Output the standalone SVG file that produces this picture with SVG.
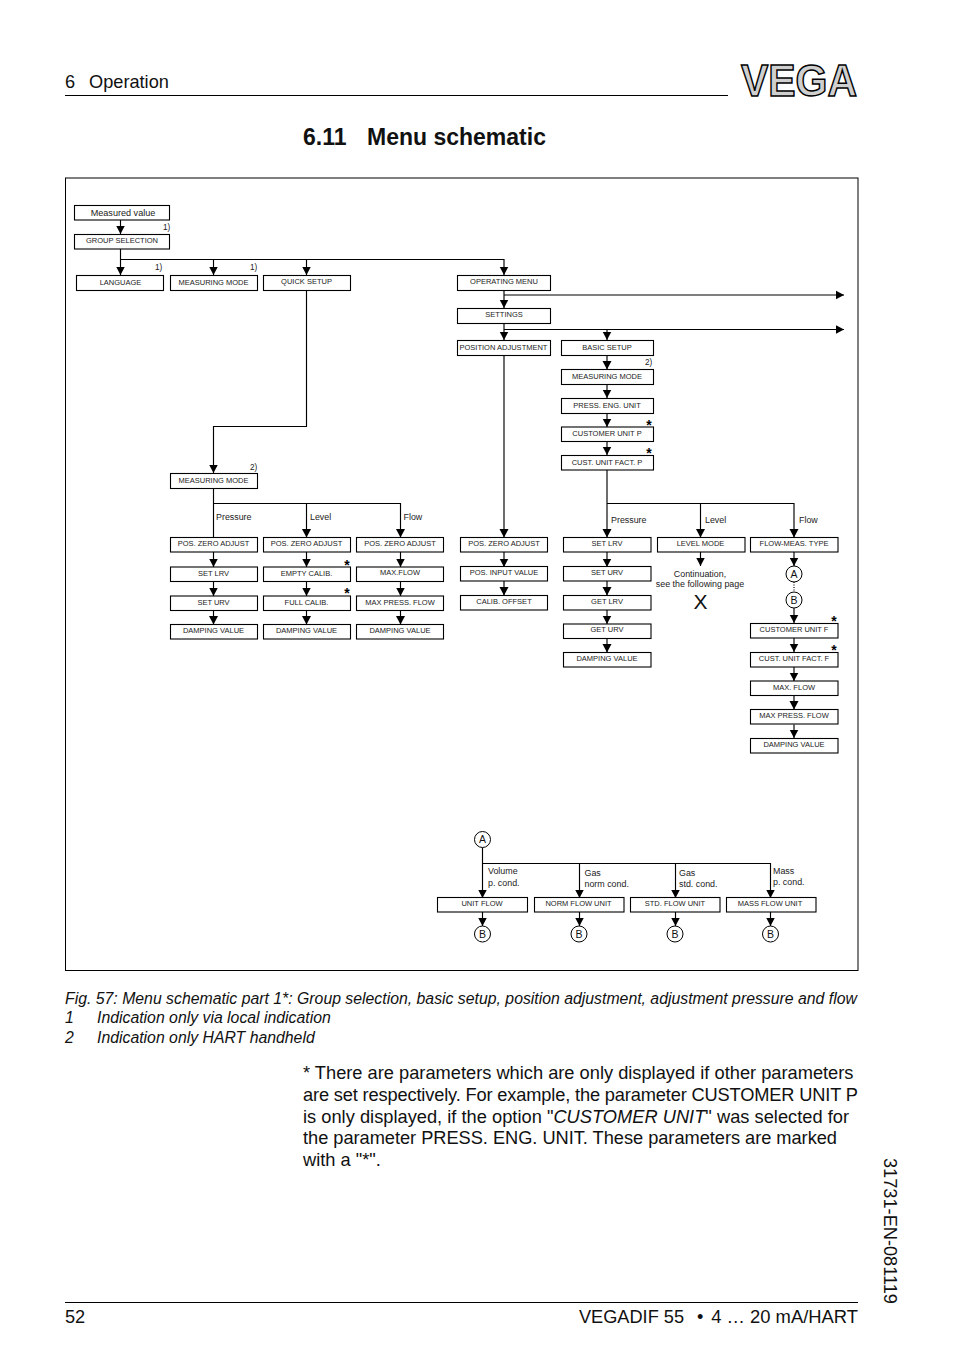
<svg xmlns="http://www.w3.org/2000/svg" width="954" height="1354" viewBox="0 0 954 1354">
<style>
text{font-family:"Liberation Sans",Arial,sans-serif;fill:#111}
.b rect{fill:#fff;stroke:#000;stroke-width:1.1}
.b text{font-size:7.5px;text-anchor:middle;fill:#222}
.l{font-size:8.9px;fill:#222}
.n{font-size:8.2px;fill:#222}
.c line,.c path{fill:none;stroke:#000;stroke-width:1.15}
.k circle{fill:#fff;stroke:#000;stroke-width:1}
.k text{font-size:10.5px;text-anchor:middle;fill:#111}
.h{font-size:18.2px}
.cap{font-size:15.82px;font-style:italic}
.body{font-size:18.25px}
.s{font-size:14px;font-weight:bold;text-anchor:middle;fill:#000}
</style>
<defs>
<marker id="a" markerUnits="userSpaceOnUse" markerWidth="9" markerHeight="10" refX="8.500" refY="5" orient="auto"><path d="M0,0.5 L8.500,5 L0,9.500 z" fill="#000"/></marker>
</defs>
<rect width="954" height="1354" fill="#fff"/>
<g id="header">
<text class="h" x="65" y="88">6<tspan x="89">Operation</tspan></text>
<line x1="65" y1="95.5" x2="728" y2="95.5" stroke="#000"/>
<text x="741" y="96" font-size="44" font-weight="bold" textLength="116" lengthAdjust="spacingAndGlyphs" style="fill:#cfcfcf;stroke:#000;stroke-width:1.5">VEGA</text>
</g>
<text id="title" x="303" y="145" font-size="23" font-weight="bold">6.11<tspan x="367">Menu schematic</tspan></text>
<rect id="frame" x="65.5" y="178" width="792.5" height="792.5" fill="#fff" stroke="#000"/>
<g id="connectors" class="c">
<line x1="120.5" y1="220" x2="120.5" y2="234" marker-end="url(#a)"/>
<path d="M120.5 249V275" marker-end="url(#a)"/>
<path d="M120.5 259.5H504V275" marker-end="url(#a)"/>
<path d="M213.5 259.5V275" marker-end="url(#a)"/>
<path d="M306.5 259.5V275" marker-end="url(#a)"/>
<path d="M306.5 290.5V426.5H213.5V473" marker-end="url(#a)"/>
<path d="M213.5 488V537.5"/>
<path d="M213.5 503.5H400.5V537.5" marker-end="url(#a)"/>
<path d="M306.5 503.5V537.5" marker-end="url(#a)"/>
<path d="M213.5 552V567" marker-end="url(#a)"/>
<path d="M213.5 581V596" marker-end="url(#a)"/>
<path d="M213.5 610V624.5" marker-end="url(#a)"/>
<path d="M306.5 552V567" marker-end="url(#a)"/>
<path d="M306.5 581V596" marker-end="url(#a)"/>
<path d="M306.5 610V624.5" marker-end="url(#a)"/>
<path d="M400.5 552V567" marker-end="url(#a)"/>
<path d="M400.5 581V596" marker-end="url(#a)"/>
<path d="M400.5 610V624.5" marker-end="url(#a)"/>
<path d="M504 290.5V308" marker-end="url(#a)"/>
<path d="M504 295H844" marker-end="url(#a)"/>
<path d="M504 323V340" marker-end="url(#a)"/>
<path d="M504 329.5H844" marker-end="url(#a)"/>
<path d="M607 329.5V340" marker-end="url(#a)"/>
<path d="M504 355.5V537.5" marker-end="url(#a)"/>
<path d="M504 552V567" marker-end="url(#a)"/>
<path d="M504 581V595.5" marker-end="url(#a)"/>
<path d="M607 355.5V369.5" marker-end="url(#a)"/>
<path d="M607 384.5V398" marker-end="url(#a)"/>
<path d="M607 413.5V427" marker-end="url(#a)"/>
<path d="M607 441.5V455" marker-end="url(#a)"/>
<path d="M607 470V537.5" marker-end="url(#a)"/>
<path d="M607 503.5H794V537.5" marker-end="url(#a)"/>
<path d="M700.5 503.5V537.5" marker-end="url(#a)"/>
<path d="M607 552V567" marker-end="url(#a)"/>
<path d="M607 581V595.5" marker-end="url(#a)"/>
<path d="M607 610V624" marker-end="url(#a)"/>
<path d="M607 638.5V652.5" marker-end="url(#a)"/>
<path d="M700.5 552V566" marker-end="url(#a)"/>
<path d="M794 552V566" marker-end="url(#a)"/>
<path d="M794 582V592" stroke-dasharray="1 1.5"/>
<path d="M794 608V623" marker-end="url(#a)"/>
<path d="M794 638V652" marker-end="url(#a)"/>
<path d="M794 667V681" marker-end="url(#a)"/>
<path d="M794 695.5V709.5" marker-end="url(#a)"/>
<path d="M794 724.5V738" marker-end="url(#a)"/>
<path d="M482.5 847.5V898" marker-end="url(#a)"/>
<path d="M482.5 863.5H770.5V898" marker-end="url(#a)"/>
<path d="M579.5 863.5V898" marker-end="url(#a)"/>
<path d="M675.5 863.5V898" marker-end="url(#a)"/>
<path d="M482.5 912V926" marker-end="url(#a)"/>
<path d="M579.5 912V926" marker-end="url(#a)"/>
<path d="M675.5 912V926" marker-end="url(#a)"/>
<path d="M770.5 912V926" marker-end="url(#a)"/>
</g>
<g id="n-measured-value" class="b"><rect x="74.5" y="205.5" width="95" height="14.5"/><text x="123" y="216" style="font-size:9.1px">Measured value</text></g>
<g id="n-group-selection" class="b"><rect x="74.5" y="234.5" width="95" height="14.5"/><text x="122" y="243">GROUP SELECTION</text></g>
<g id="n-language" class="b"><rect x="76.5" y="275.5" width="87" height="15"/><text x="120.5" y="285">LANGUAGE</text></g>
<g id="n-measuring-mode-1" class="b"><rect x="170.5" y="275.5" width="87" height="15"/><text x="213.5" y="285">MEASURING MODE</text></g>
<g id="n-quick-setup" class="b"><rect x="263.5" y="275.5" width="87" height="15"/><text x="306.5" y="284">QUICK SETUP</text></g>
<g id="n-measuring-mode-2" class="b"><rect x="170.5" y="473.5" width="87" height="15"/><text x="213.5" y="483">MEASURING MODE</text></g>
<g id="n-operating-menu" class="b"><rect x="457.5" y="275.5" width="93" height="15"/><text x="504" y="284">OPERATING MENU</text></g>
<g id="n-settings" class="b"><rect x="457.5" y="308.5" width="93" height="15"/><text x="504" y="317">SETTINGS</text></g>
<g id="n-position-adjustment" class="b"><rect x="457.5" y="340.5" width="93" height="15"/><text x="503.5" y="350">POSITION ADJUSTMENT</text></g>
<g id="n-basic-setup" class="b"><rect x="561.5" y="340.5" width="92" height="15"/><text x="607" y="350">BASIC SETUP</text></g>
<g id="n-measuring-mode-3" class="b"><rect x="561.5" y="369.5" width="92" height="15"/><text x="607" y="379">MEASURING MODE</text></g>
<g id="n-press-eng-unit" class="b"><rect x="561.5" y="398.5" width="92" height="15"/><text x="607" y="408">PRESS. ENG. UNIT</text></g>
<g id="n-customer-unit-p" class="b"><rect x="561.5" y="427" width="92" height="14.5"/><text x="607" y="436">CUSTOMER UNIT P</text></g>
<g id="n-cust-unit-fact-p" class="b"><rect x="561.5" y="455.5" width="92" height="14.5"/><text x="607" y="465">CUST. UNIT FACT. P</text></g>
<g id="n-p-zero" class="b"><rect x="170.5" y="537.5" width="87" height="14.5"/><text x="213.5" y="546">POS. ZERO ADJUST</text></g>
<g id="n-p-lrv" class="b"><rect x="170.5" y="567" width="87" height="14.5"/><text x="213.5" y="576">SET LRV</text></g>
<g id="n-p-urv" class="b"><rect x="170.5" y="596" width="87" height="14.5"/><text x="213.5" y="605">SET URV</text></g>
<g id="n-p-damping" class="b"><rect x="170.5" y="624.5" width="87" height="14.5"/><text x="213.5" y="633">DAMPING VALUE</text></g>
<g id="n-l-zero" class="b"><rect x="263.5" y="537.5" width="87" height="14.5"/><text x="306.5" y="546">POS. ZERO ADJUST</text></g>
<g id="n-l-empty" class="b"><rect x="263.5" y="567" width="87" height="14.5"/><text x="306.5" y="576">EMPTY CALIB.</text></g>
<g id="n-l-full" class="b"><rect x="263.5" y="596" width="87" height="14.5"/><text x="306.5" y="605">FULL CALIB.</text></g>
<g id="n-l-damping" class="b"><rect x="263.5" y="624.5" width="87" height="14.5"/><text x="306.5" y="633">DAMPING VALUE</text></g>
<g id="n-f-zero" class="b"><rect x="356.5" y="537.5" width="87" height="14.5"/><text x="400" y="546">POS. ZERO ADJUST</text></g>
<g id="n-f-max" class="b"><rect x="356.5" y="567" width="87" height="14.5"/><text x="400" y="575">MAX.FLOW</text></g>
<g id="n-f-press" class="b"><rect x="356.5" y="596" width="87" height="14.5"/><text x="400" y="604.5">MAX PRESS. FLOW</text></g>
<g id="n-f-damping" class="b"><rect x="356.5" y="624.5" width="87" height="14.5"/><text x="400" y="633">DAMPING VALUE</text></g>
<g id="n-a-zero" class="b"><rect x="460.5" y="537.5" width="87" height="14.5"/><text x="504" y="546">POS. ZERO ADJUST</text></g>
<g id="n-a-input" class="b"><rect x="460.5" y="566.5" width="87" height="14.5"/><text x="504" y="575">POS. INPUT VALUE</text></g>
<g id="n-a-calib" class="b"><rect x="460.5" y="595.5" width="87" height="14.5"/><text x="504" y="604">CALIB. OFFSET</text></g>
<g id="n-r-lrv" class="b"><rect x="563.5" y="537.5" width="87.5" height="14.5"/><text x="607" y="546">SET LRV</text></g>
<g id="n-r-urv" class="b"><rect x="563.5" y="566.5" width="87.5" height="14.5"/><text x="607" y="575">SET URV</text></g>
<g id="n-r-glrv" class="b"><rect x="563.5" y="595.5" width="87.5" height="14.5"/><text x="607" y="604">GET LRV</text></g>
<g id="n-r-gurv" class="b"><rect x="563.5" y="624" width="87.5" height="14.5"/><text x="607" y="632">GET URV</text></g>
<g id="n-r-damping" class="b"><rect x="563.5" y="652.5" width="87.5" height="14.5"/><text x="607" y="661">DAMPING VALUE</text></g>
<g id="n-level-mode" class="b"><rect x="657.5" y="537.5" width="87.5" height="14.5"/><text x="700.5" y="546">LEVEL MODE</text></g>
<g id="n-flow-type" class="b"><rect x="750.5" y="537.5" width="87.5" height="14.5"/><text x="794" y="546">FLOW-MEAS. TYPE</text></g>
<g id="n-cu-f" class="b"><rect x="750.5" y="623.5" width="87.5" height="14.5"/><text x="794" y="632">CUSTOMER UNIT F</text></g>
<g id="n-cuf-f" class="b"><rect x="750.5" y="652.5" width="87.5" height="14.5"/><text x="794" y="661">CUST. UNIT FACT. F</text></g>
<g id="n-max-flow" class="b"><rect x="750.5" y="681" width="87.5" height="14.5"/><text x="794" y="690">MAX. FLOW</text></g>
<g id="n-max-press" class="b"><rect x="750.5" y="709.5" width="87.5" height="14.5"/><text x="794" y="718">MAX PRESS. FLOW</text></g>
<g id="n-damping-f" class="b"><rect x="750.5" y="738.5" width="87.5" height="14.5"/><text x="794" y="747">DAMPING VALUE</text></g>
<g id="n-unit-flow" class="b"><rect x="437.5" y="897.5" width="90" height="14.5"/><text x="482" y="906">UNIT FLOW</text></g>
<g id="n-norm-flow" class="b"><rect x="534.5" y="897.5" width="89.5" height="14.5"/><text x="578.5" y="906">NORM FLOW UNIT</text></g>
<g id="n-std-flow" class="b"><rect x="630.5" y="897.5" width="89.5" height="14.5"/><text x="675" y="906">STD. FLOW UNIT</text></g>
<g id="n-mass-flow" class="b"><rect x="726.5" y="897.5" width="89.5" height="14.5"/><text x="770" y="906">MASS FLOW UNIT</text></g>
<g id="k-a1" class="k"><circle cx="794" cy="574" r="8"/><text x="794" y="577.5">A</text></g>
<g id="k-b1" class="k"><circle cx="794" cy="600" r="8"/><text x="794" y="603.5">B</text></g>
<g id="k-a2" class="k"><circle cx="482.5" cy="839.5" r="8"/><text x="482.5" y="843">A</text></g>
<g id="k-b2" class="k"><circle cx="482.5" cy="934" r="8"/><text x="482.5" y="937.5">B</text></g>
<g id="k-b3" class="k"><circle cx="579" cy="934" r="8"/><text x="579" y="937.5">B</text></g>
<g id="k-b4" class="k"><circle cx="675" cy="934" r="8"/><text x="675" y="937.5">B</text></g>
<g id="k-b5" class="k"><circle cx="770.5" cy="934" r="8"/><text x="770.5" y="937.5">B</text></g>
<g id="labels">
<text class="n" x="163" y="230">1)</text><text class="n" x="155" y="270">1)</text><text class="n" x="250" y="270">1)</text>
<text class="n" x="250" y="470">2)</text><text class="n" x="645" y="365">2)</text>
<text class="l" x="216" y="520">Pressure</text><text class="l" x="310" y="520">Level</text><text class="l" x="403.5" y="520">Flow</text>
<text class="l" x="611" y="523">Pressure</text><text class="l" x="705" y="523">Level</text><text class="l" x="799" y="523">Flow</text>
<text class="l" x="700" y="577" text-anchor="middle">Continuation,</text>
<text class="l" x="700" y="587" text-anchor="middle">see the following page</text>
<text x="700.5" y="609" font-size="21" text-anchor="middle">X</text>
<text class="l" x="488" y="874">Volume</text><text class="l" x="488" y="886">p. cond.</text>
<text class="l" x="584.5" y="876">Gas</text><text class="l" x="584.5" y="887">norm cond.</text>
<text class="l" x="679" y="876">Gas</text><text class="l" x="679" y="887">std. cond.</text>
<text class="l" x="773" y="874">Mass</text><text class="l" x="773" y="885">p. cond.</text>
<text class="s" x="649" y="430">*</text><text class="s" x="649" y="458">*</text>
<text class="s" x="347" y="570">*</text><text class="s" x="347" y="598">*</text>
<text class="s" x="834" y="626">*</text><text class="s" x="834" y="655">*</text>
</g>
<g id="caption">
<text class="cap" x="65" y="1004">Fig. 57: Menu schematic part 1*: Group selection, basic setup, position adjustment, adjustment pressure and flow</text>
<text class="cap" x="65" y="1023">1</text><text class="cap" x="97" y="1023">Indication only via local indication</text>
<text class="cap" x="65" y="1043">2</text><text class="cap" x="97" y="1043">Indication only HART handheld</text>
</g>
<g id="body">
<text class="body" x="303" y="1079">* There are parameters which are only displayed if other parameters</text>
<text class="body" x="303" y="1101" textLength="555">are set respectively. For example, the parameter CUSTOMER UNIT P</text>
<text class="body" x="303" y="1123" textLength="546">is only displayed, if the option "<tspan font-style="italic">CUSTOMER UNIT</tspan>" was selected for</text>
<text class="body" x="303" y="1144" textLength="534">the parameter PRESS. ENG. UNIT. These parameters are marked</text>
<text class="body" x="303" y="1166">with a "*".</text>
</g>
<g id="footer">
<line x1="65" y1="1302.5" x2="858" y2="1302.5" stroke="#000"/>
<text class="h" x="65" y="1323">52</text>
<text class="h" x="579" y="1323" textLength="105">VEGADIF 55</text>
<text class="h" x="697" y="1323">•</text>
<text class="h" x="858" y="1323" text-anchor="end" style="font-size:18.4px">4 … 20 mA/HART</text>
<text class="h" transform="translate(884,1158) rotate(90)">31731-EN-081119</text>
</g>
</svg>
